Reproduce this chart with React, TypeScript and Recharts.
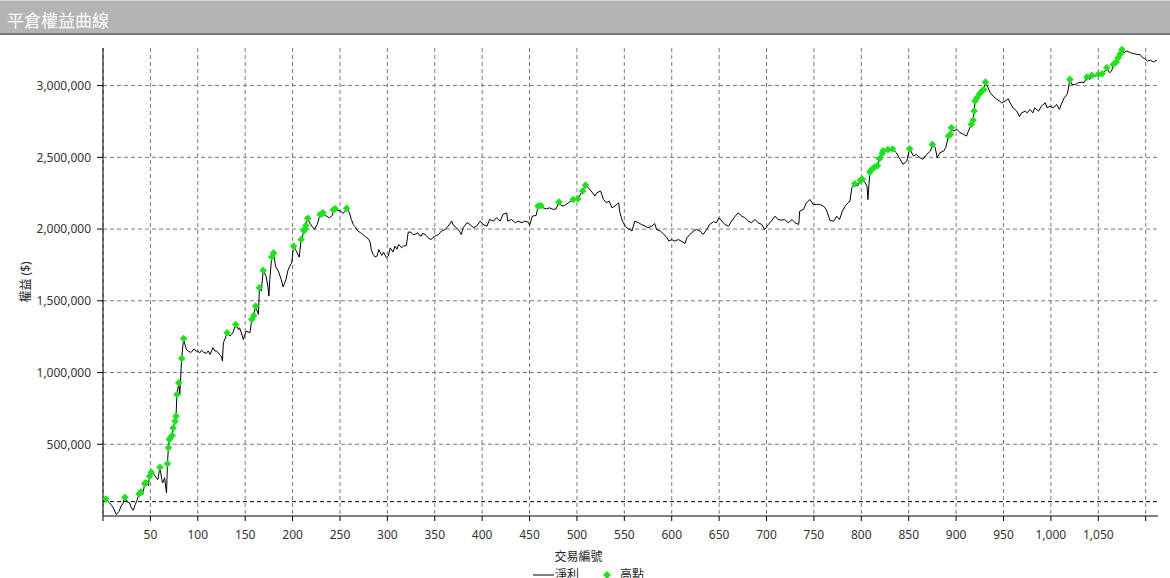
import { ComposedChart, Line, Scatter, XAxis, YAxis, CartesianGrid, ReferenceLine, Legend } from 'recharts'

// 交易編號 / 權益 (千元)
const trades = [
  0, 3, 5, 7, 9, 11, 14, 17, 19, 21, 23, 25, 28, 30, 32, 34, 36, 38, 40, 42, 44, 45, 48, 49, 51, 54, 56, 58, 60, 62, 63, 65, 67, 68, 69,
  70, 71, 73, 74, 76, 77, 78, 80, 81, 83, 85, 86, 88, 90, 93, 96, 98, 100, 102, 104, 106, 109, 111, 113, 116, 118, 120, 123, 125, 126,
  127, 129, 131, 134, 137, 140, 143, 144, 146, 148, 151, 155, 157, 159, 161, 163, 164, 165, 167, 169, 172, 174, 175, 176, 178, 180, 182,
  185, 188, 190, 193, 195, 197, 199, 201, 204, 207, 209, 210, 212, 213, 214, 216, 218, 221, 223, 226, 229, 231, 232, 234, 236, 239, 242,
  243, 245, 248, 251, 253, 255, 257, 259, 260, 262, 264, 266, 269, 272, 274, 277, 280, 282, 283, 285, 287, 289, 291, 294, 296, 299, 301,
  303, 306, 308, 310, 312, 315, 317, 320, 322, 325, 327, 329, 332, 334, 336, 337, 340, 343, 346, 350, 354, 357, 361, 364, 368, 369, 373,
  376, 378, 380, 384, 387, 391, 394, 398, 401, 405, 408, 412, 415, 419, 422, 426, 427, 431, 435, 438, 442, 445, 449, 450, 453, 457, 459,
  462, 464, 468, 471, 475, 478, 481, 484, 487, 491, 496, 501, 506, 509, 512, 515, 519, 521, 525, 528, 531, 534, 537, 540, 544, 545, 548,
  551, 554, 556, 558, 561, 565, 568, 572, 575, 579, 582, 584, 588, 591, 595, 597, 600, 603, 607, 610, 614, 616, 619, 623, 626, 630, 633,
  637, 640, 644, 647, 650, 653, 656, 660, 663, 667, 670, 674, 677, 681, 684, 688, 691, 695, 698, 702, 705, 709, 712, 716, 719, 723, 727,
  730, 734, 735, 739, 742, 746, 749, 753, 756, 760, 763, 767, 771, 774, 777, 780, 783, 786, 788, 790, 793, 796, 799, 801, 804, 806, 807,
  809, 811, 814, 817, 819, 822, 823, 825, 828, 830, 833, 837, 841, 844, 848, 851, 855, 858, 862, 865, 869, 873, 875, 878, 880, 883, 887,
  889, 892, 894, 895, 897, 901, 904, 908, 911, 913, 916, 918, 919, 920, 922, 925, 927, 929, 931, 933, 936, 939, 943, 946, 948, 952, 955,
  957, 960, 964, 967, 969, 973, 975, 978, 981, 983, 987, 990, 994, 996, 999, 1003, 1006, 1009, 1011, 1014, 1017, 1018, 1020, 1022, 1026,
  1029, 1033, 1035, 1038, 1041, 1043, 1047, 1050, 1054, 1057, 1059, 1062, 1064, 1066, 1069, 1071, 1073, 1075, 1077, 1080, 1084, 1087,
  1091, 1094, 1097, 1099, 1102, 1105, 1108, 1112,
]

const equity = [
  105, 119, 103, 91, 75, 56, 10, 33, 68, 86, 131, 103, 91, 56, 40, 80, 110, 154, 168, 150, 226, 231, 212, 277, 305, 289, 266, 254, 340, 254, 231, 266, 161, 365, 475,
  533, 545, 561, 614, 661, 695, 847, 928, 845, 1098, 1237, 1207, 1161, 1149, 1140, 1165, 1150, 1149, 1137, 1155, 1142, 1133, 1150, 1126, 1173, 1150, 1149, 1126, 1110, 1080,
  1207, 1240, 1277, 1254, 1277, 1335, 1300, 1312, 1277, 1230, 1289, 1277, 1370, 1398, 1463, 1420, 1405, 1591, 1568, 1712, 1672, 1600, 1533, 1650, 1806, 1834, 1741,
  1707, 1649, 1597, 1648, 1710, 1741, 1764, 1881, 1846, 1804, 1927, 1940, 1986, 2000, 2025, 2075, 2043, 2016, 1997, 2032, 2102, 2107, 2113, 2095, 2090, 2078, 2095,
  2134, 2141, 2130, 2125, 2109, 2120, 2145, 2125, 2113, 2067, 2032, 2016, 1985, 1974, 1962, 1946, 1932, 1904, 1857, 1823, 1806, 1811, 1857, 1816, 1839, 1799, 1811,
  1869, 1840, 1881, 1860, 1892, 1870, 1881, 1885, 1979, 1978, 1962, 1962, 1974, 1955, 1951, 1969, 1962, 1939, 1927, 1951, 1962, 1986, 1997, 2020, 2055, 2032, 2009,
  1986, 1962, 2009, 2044, 2032, 2009, 2020, 2055, 2032, 2020, 2067, 2055, 2079, 2055, 2102, 2113, 2055, 2067, 2044, 2055, 2044, 2055, 2048, 2025, 2090, 2095, 2160,
  2163, 2148, 2141, 2148, 2137, 2141, 2188, 2160, 2165, 2183, 2206, 2211, 2265, 2306, 2288, 2265, 2230, 2253, 2265, 2206, 2183, 2195, 2148, 2160, 2183, 2125, 2055,
  2020, 2002, 1997, 1986, 2055, 2044, 2032, 2020, 2009, 2020, 2039, 1997, 1986, 1969, 1939, 1916, 1927, 1916, 1927, 1916, 1900, 1939, 1962, 1986, 1997, 1986, 1962,
  1997, 2032, 2051, 2044, 2079, 2055, 2032, 2020, 2055, 2090, 2113, 2090, 2079, 2055, 2044, 2067, 2044, 2032, 1997, 2032, 2055, 2090, 2067, 2062, 2067, 2044, 2067,
  2044, 2032, 2125, 2137, 2183, 2206, 2172, 2172, 2172, 2160, 2137, 2060, 2055, 2090, 2067, 2125, 2160, 2183, 2195, 2288, 2315, 2300, 2340, 2348, 2323, 2300, 2206,
  2397, 2415, 2432, 2442, 2490, 2527, 2545, 2540, 2555, 2545, 2558, 2532, 2486, 2451, 2474, 2560, 2509, 2520, 2497, 2486, 2520, 2544, 2590, 2567, 2497, 2532, 2544,
  2567, 2648, 2660, 2706, 2683, 2695, 2672, 2660, 2648, 2683, 2730, 2760, 2823, 2892, 2915, 2945, 2960, 2973, 3024, 2996, 2950, 2927, 2904, 2892, 2880, 2892, 2908,
  2880, 2845, 2822, 2783, 2810, 2822, 2810, 2834, 2810, 2845, 2822, 2857, 2880, 2845, 2857, 2845, 2869, 2834, 2869, 2915, 2938, 2962, 3043, 3008, 3008,
  3020, 3024, 3020, 3059, 3043, 3071, 3066, 3078, 3083, 3101, 3124, 3090, 3101, 3148, 3164, 3194, 3220, 3252, 3229, 3241, 3229, 3224,
  3217, 3217, 3194, 3187, 3171, 3178, 3164, 3178,
]

// 高點 (新高)
const highTrades = [
  3, 23, 38, 40, 44, 45, 49, 51, 60, 68, 69, 70, 71, 73, 74, 76, 77, 78, 80, 83, 85, 131, 140, 157, 159, 161, 165, 169, 178, 180,
  201, 209, 212, 213, 214, 216, 229, 231, 232, 243, 245, 257, 459, 462, 481, 496, 501, 506, 509, 793, 799, 801, 809, 811, 814, 817,
  819, 822, 823, 828, 833, 851, 875, 892, 894, 895, 916, 918, 919, 920, 922, 925, 927, 929, 931, 1020, 1038, 1043, 1050, 1054, 1059,
  1066, 1069, 1071, 1073, 1075,
]
const highEquity = [
  119, 131, 154, 168, 226, 231, 277, 305, 340, 365, 475, 533, 545, 561, 614, 661, 695, 847, 928, 1098, 1237, 1277, 1335, 1370, 1398, 1463, 1591, 1712, 1806, 1834,
  1881, 1927, 1986, 2000, 2025, 2075, 2102, 2107, 2113, 2134, 2141, 2145, 2160, 2163, 2188, 2206, 2211, 2265, 2306, 2315, 2340, 2348, 2397, 2415, 2432, 2442,
  2490, 2527, 2545, 2555, 2558, 2560, 2590, 2648, 2660, 2706, 2730, 2760, 2823, 2892, 2915, 2945, 2960, 2973, 3024, 3043, 3059, 3071, 3078, 3083, 3124,
  3148, 3164, 3194, 3220, 3252,
]

const xTicks = [0, 50, 100, 150, 200, 250, 300, 350, 400, 450, 500, 550, 600, 650, 700, 750, 800, 850, 900, 950, 1000, 1050, 1100]
const yTicks = [500, 1000, 1500, 2000, 2500, 3000]
const startCapital = 100

const lineData = trades.map((t, i) => ({ trade: t, equity: equity[i] }))
const highData = highTrades.map((t, i) => ({ trade: t, equity: highEquity[i] }))

const FONT = '"Noto Sans", "Noto Sans CJK TC", sans-serif'
const GREEN = '#20e020'

const Diamond = (props: any) => {
  const { cx, cy } = props
  const r = 3.8
  return <polygon points={`${cx},${cy - r} ${cx + r},${cy} ${cx},${cy + r} ${cx - r},${cy}`} fill={GREEN} />
}

const LegendBox = () => (
  <div style={{ position: 'relative', height: 18, fontSize: 12, fontFamily: FONT, color: '#222' }}>
    <svg width={22} height={18} style={{ position: 'absolute', left: 533, top: 0 }}>
      <line x1={0} y1={9} x2={21} y2={9} stroke="#000" strokeWidth={1} />
    </svg>
    <span style={{ position: 'absolute', left: 555, top: 0, lineHeight: '18px' }}>淨利</span>
    <svg width={10} height={18} style={{ position: 'absolute', left: 602, top: 0 }}>
      <polygon points="5,5 9,9 5,13 1,9" fill={GREEN} />
    </svg>
    <span style={{ position: 'absolute', left: 620, top: 0, lineHeight: '18px' }}>高點</span>
  </div>
)

export default function App() {
  return (
    <div style={{ position: 'relative', width: 1170, height: 578, overflow: 'hidden', background: '#fff' }}>
      <style>{'body{margin:0}'}</style>
      <div
        style={{
          position: 'absolute', left: 0, top: 0, width: 1170, height: 32,
          background: '#b4b4b4', borderTop: '1px solid #d6d6d6', borderBottom: '2px solid #767676',
        }}
      >
        <div style={{ position: 'absolute', left: 7, top: 10, fontSize: 17, lineHeight: 1, color: '#fff', fontFamily: '"Noto Sans CJK TC", sans-serif' }}>
          平倉權益曲線
        </div>
      </div>
      <div style={{ position: 'absolute', left: 0, top: 34 }}>
        <ComposedChart width={1170} height={560} margin={{ top: 14, right: 12, bottom: 10, left: 0 }}>
          <CartesianGrid stroke="#7a7a7a" strokeDasharray="4 3" syncWithTicks />
          <XAxis
            type="number"
            dataKey="trade"
            domain={[0, 1113]}
            ticks={xTicks}
            interval={0}
            height={50}
            tickSize={5}
            tickMargin={9}
            axisLine={{ stroke: '#000' }}
            tickLine={{ stroke: '#000' }}
            tick={{ fill: '#333', fontSize: 12, fontFamily: FONT }}
            tickFormatter={(v: number) => (v === 0 || v === 1100 ? '' : v.toLocaleString('en-US'))}
            label={(p: any) => (
              <text x={p.viewBox.x + p.viewBox.width / 2 - 52} y={p.viewBox.y + 45} textAnchor="middle" fontSize={12} fontFamily={FONT} fill="#222">
                交易編號
              </text>
            )}
          />
          <YAxis
            type="number"
            dataKey="equity"
            domain={[0, 3262]}
            ticks={yTicks}
            interval={0}
            width={103}
            tickSize={6}
            tickMargin={6}
            axisLine={{ stroke: '#000' }}
            tickLine={{ stroke: '#000' }}
            tick={{ fill: '#333', fontSize: 12, fontFamily: FONT }}
            tickFormatter={(v: number) => (v * 1000).toLocaleString('en-US')}
            label={(p: any) => {
              const cx = p.viewBox.x + 25
              const cy = p.viewBox.y + p.viewBox.height / 2
              return (
                <text x={cx} y={cy} transform={`rotate(-90 ${cx} ${cy})`} textAnchor="middle" dominantBaseline="central" fontSize={12} fontFamily={FONT} fill="#222">
                  權益 ($)
                </text>
              )
            }}
          />
          <ReferenceLine y={startCapital} stroke="#000" strokeDasharray="4 3" />
          <Line data={lineData} dataKey="equity" type="linear" stroke="#000" strokeWidth={1} dot={false} isAnimationActive={false} />
          <Scatter data={highData} dataKey="equity" shape={<Diamond />} isAnimationActive={false} />
          <Legend verticalAlign="bottom" content={() => <LegendBox />} />
        </ComposedChart>
      </div>
    </div>
  )
}
